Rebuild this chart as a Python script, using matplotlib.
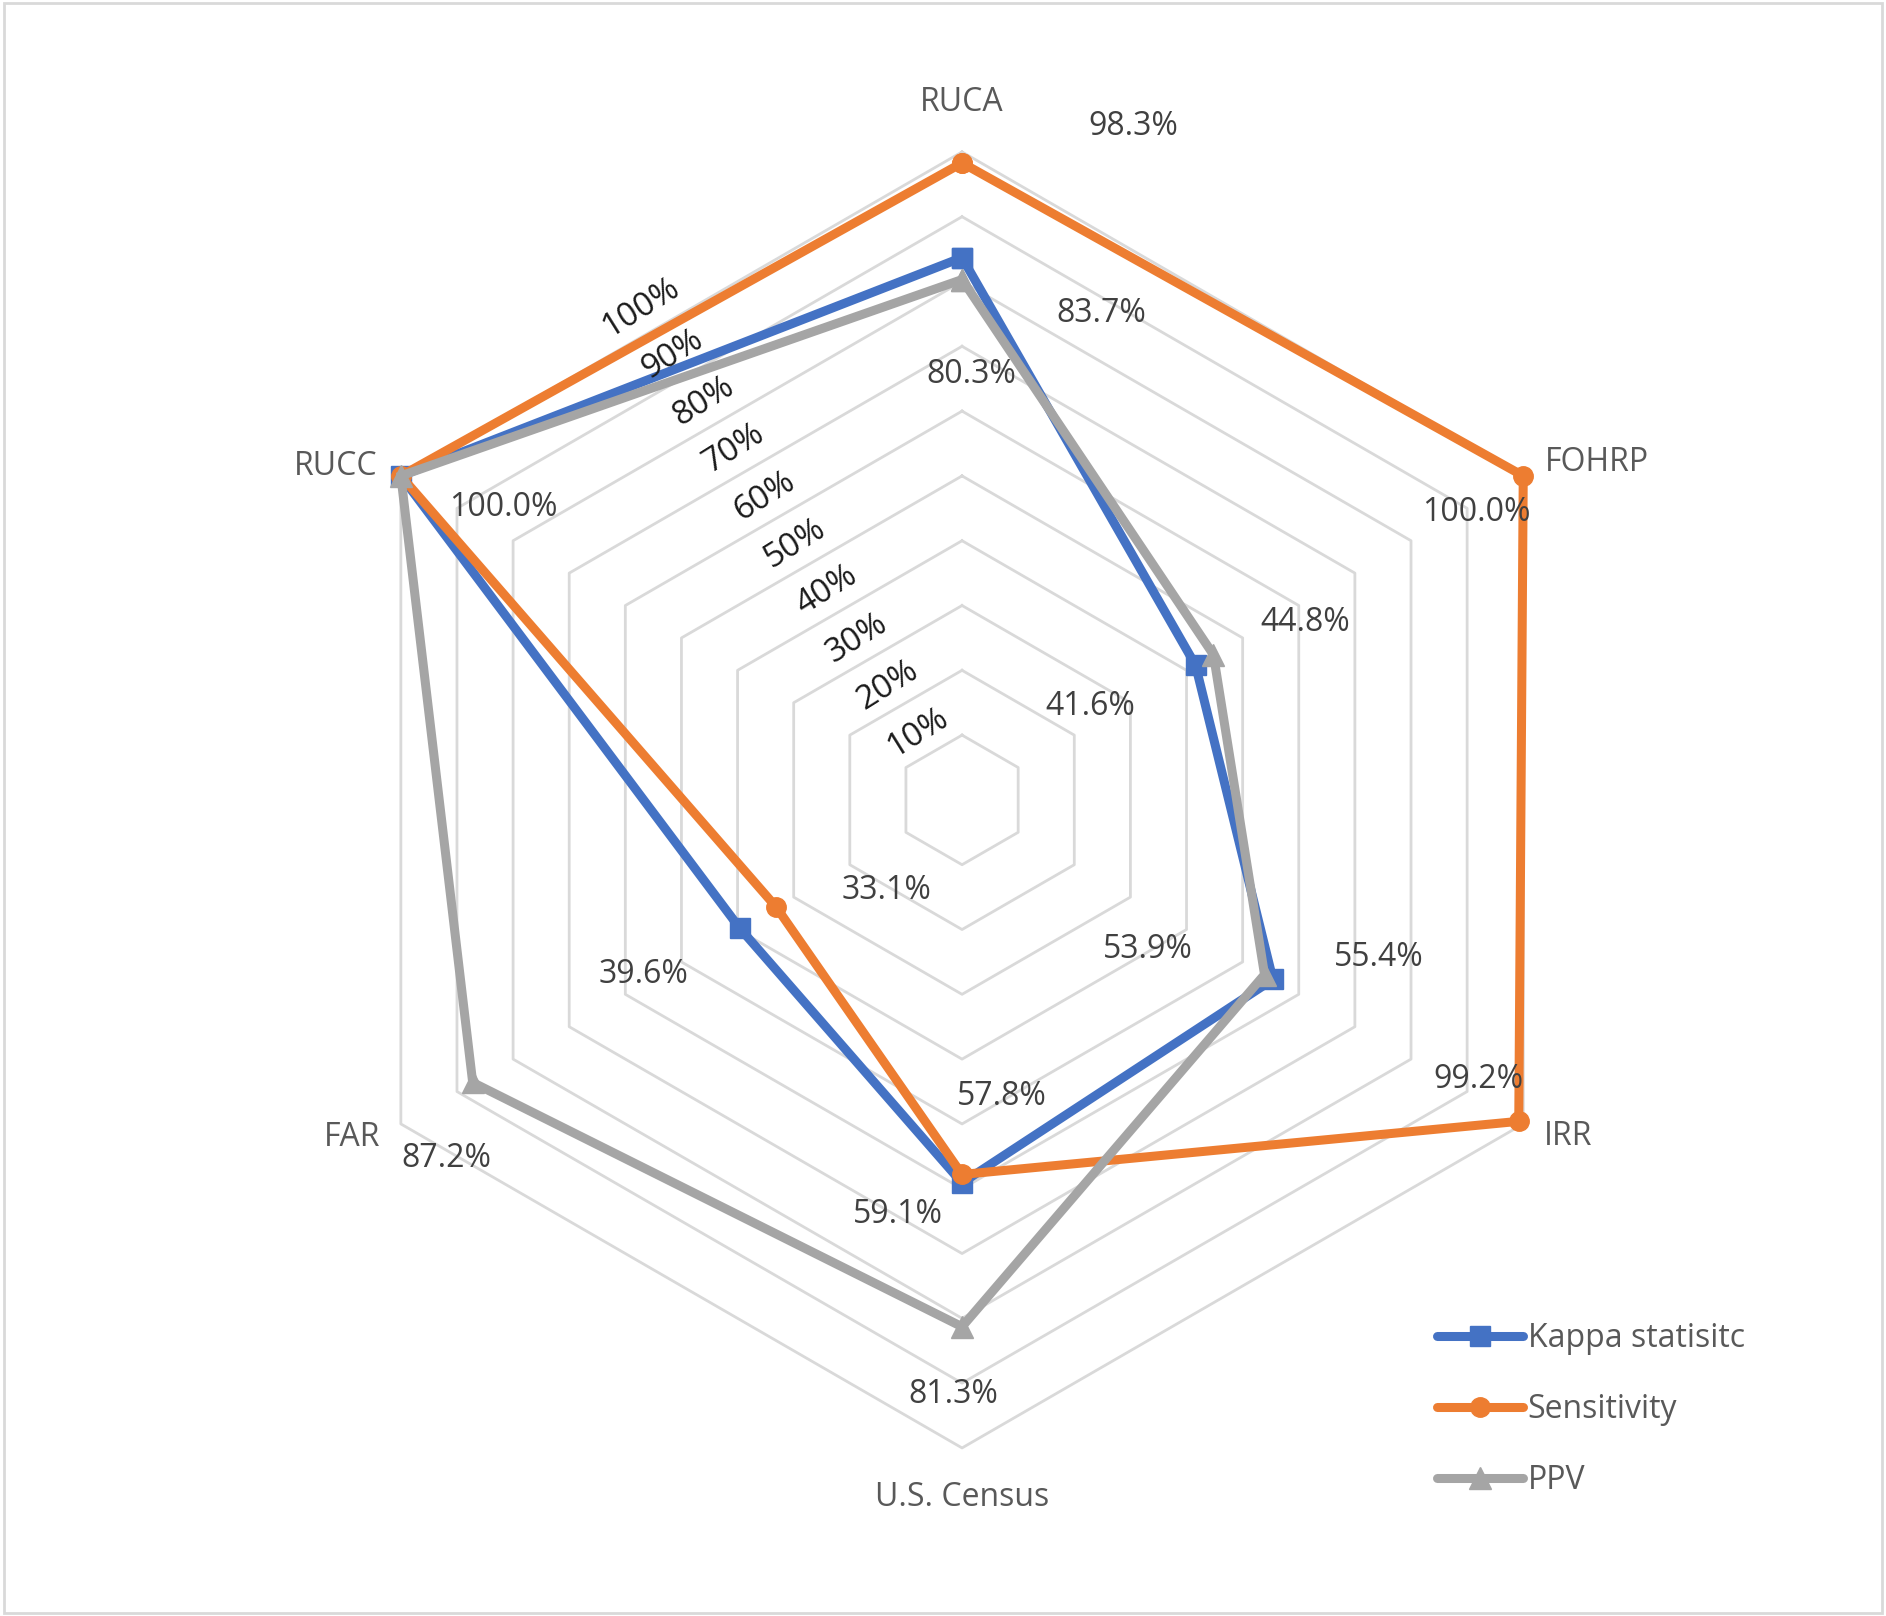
import numpy as np
import matplotlib.pyplot as plt
from matplotlib.patches import Rectangle

plt.rcParams['font.family'] = ['Open Sans', 'DejaVu Sans']

# data
categories = ['RUCA', 'FOHRP', 'IRR', 'U.S. Census', 'FAR', 'RUCC']
kappa = [0.837, 0.416, 0.554, 0.591, 0.396, 1.000]
sensitivity = [0.983, 1.000, 0.992, 0.578, 0.331, 1.000]
ppv = [0.803, 0.448, 0.539, 0.813, 0.872, 1.000]
series_names = ['Kappa statisitc', 'Sensitivity', 'PPV']
tick_values = [0.1, 0.2, 0.3, 0.4, 0.5, 0.6, 0.7, 0.8, 0.9, 1.0]

colors = ['#4472C4', '#ED7D31', '#A5A5A5']
markers = ['s', 'o', '^']
msizes = [15, 14, 16]

# label offsets (points) for each series/category, None = no label
offsets = [
    [(100, -40), (-76, -30), (76, 16), (-46, -23), (-69, -33), (74, -23)],
    [(123, 26), (-34, -26), (-29, 30), (29, 56), (79, 12), None],
    [(7, -68), (66, 23), (-84, 18), (-6, -49), (-19, -55), None],
]

fig = plt.figure(figsize=(18.86, 16.16), dpi=100)
ax = fig.add_axes([0.1665, 0.104, 0.6872, 0.802], projection='polar')
ax.set_theta_offset(np.pi / 2)
ax.set_theta_direction(-1)
ax.set_ylim(0, 1)
ax.grid(False)
ax.set_xticks([])
ax.set_yticks([])
ax.spines['polar'].set_visible(False)

n = len(categories)
angles = np.linspace(0, 2 * np.pi, n, endpoint=False)
closed = np.append(angles, angles[0])

# hexagon gridlines
for v in tick_values:
    ax.plot(closed, [v] * (n + 1), color='#D9D9D9', lw=2, zorder=1, clip_on=False)

# series
data = [kappa, sensitivity, ppv]
for i, vals in enumerate(data):
    ax.plot(closed, list(vals) + [vals[0]], color=colors[i], lw=6.5, marker=markers[i],
            markersize=msizes[i], label=series_names[i], zorder=3 + i, clip_on=False,
            solid_joinstyle='miter', solid_capstyle='round')

# data labels
for i, vals in enumerate(data):
    for j, v in enumerate(vals):
        if offsets[i][j] is None:
            continue
        ax.annotate('{:.1f}%'.format(v * 100), xy=(angles[j], v), xytext=offsets[i][j],
                    textcoords='offset points', ha='center', va='center',
                    fontsize=23, color='#404040', annotation_clip=False, zorder=10)

# category labels
cat_pos = [(0, 1.076), (62, 1.11), (119, 1.07), (180, 1.076), (241, 1.076), (298, 1.095)]
for c, (a, r) in zip(categories, cat_pos):
    ax.text(np.deg2rad(a), r, c, ha='center', va='center', fontsize=23, color='#595959')

# radial tick labels, rotated along the axis
for v in tick_values:
    r = 0.87 * v + 0.037
    ax.text(np.deg2rad(327), r, '{:d}%'.format(int(round(v * 100))), ha='center', va='center',
            rotation=32, fontsize=24, color='#1a1a1a', zorder=9)

leg = fig.legend(loc='upper left', bbox_to_anchor=(0.755, 0.19), frameon=False, fontsize=23,
                 handlelength=2.7, handletextpad=0.15, labelspacing=1.2, borderaxespad=0)
for t in leg.get_texts():
    t.set_color('#595959')

# chart border
fig.patches.append(Rectangle((0.002, 0.002), 0.996, 0.996, transform=fig.transFigure,
                             fill=False, edgecolor='#D9D9D9', lw=2))

fig.savefig('out.png', dpi=100)
